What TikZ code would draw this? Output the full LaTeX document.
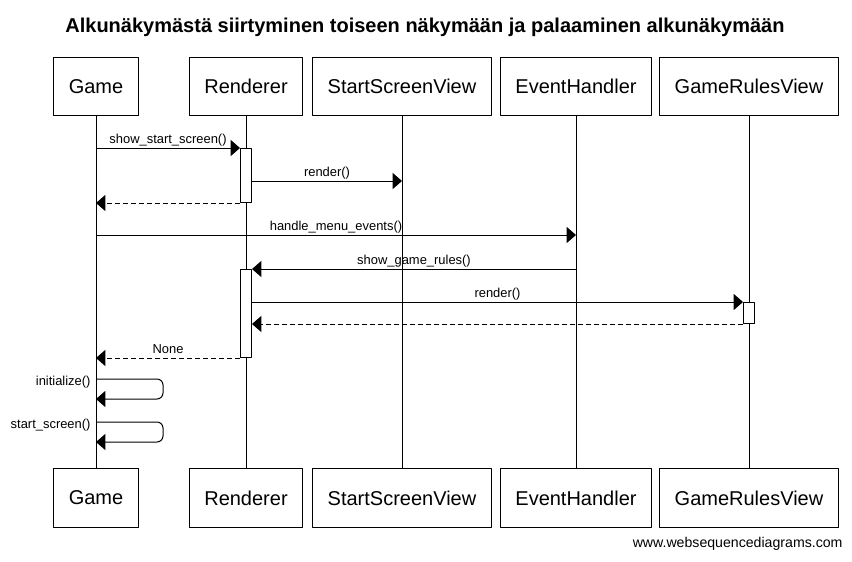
\documentclass[tikz,border=0pt]{standalone}
\usepackage{fontspec}
\setmainfont{Liberation Sans}
\usetikzlibrary{arrows.meta}

\begin{document}
\begin{tikzpicture}[x=0.75pt,y=-0.75pt,line width=0.75pt,line join=round,
	>={Triangle[length=7pt,width=12pt]},
	part/.style={draw,minimum height=43.75pt,inner xsep=11.25pt,font=\fontsize{15}{18}\selectfont},
	actbox/.style={draw,fill=white,anchor=north,minimum width=8.25pt,inner sep=0pt},
	msg/.style={->},
	ret/.style={->,dash pattern=on 3.75pt off 2.25pt},
	lbl/.style={font=\fontsize{9.7}{11}\selectfont,above,inner sep=1pt,text depth=2pt},
	selflbl/.style={font=\fontsize{9.7}{11}\selectfont,anchor=east,inner sep=0pt}]
	\def\xg{96} \def\xr{246} \def\xs{402} \def\xe{576} \def\xv{749} % Lifelines
	\def\ytop{86.5} \def\ybot{498}
	\useasboundingbox (0,0) rectangle (852,561);
	
	\node[anchor=base,inner sep=0pt,font=\bfseries\fontsize{15}{18}\selectfont] (title) at (425,32) {Alkunäkymästä siirtyminen toiseen näkymään ja palaaminen alkunäkymään};
	
	\node[part] (gameT) at (\xg,\ytop) {Game};
	\node[part] (rendT) at (\xr,\ytop) {Renderer};
	\node[part] (startT) at (\xs,\ytop) {StartScreenView};
	\node[part] (eventT) at (\xe,\ytop) {EventHandler};
	\node[part] (rulesT) at (\xv,\ytop) {GameRulesView};
	\node[part] (gameB) at (\xg,\ybot) {Game};
	\node[part] (rendB) at (\xr,\ybot) {Renderer};
	\node[part] (startB) at (\xs,\ybot) {StartScreenView};
	\node[part] (eventB) at (\xe,\ybot) {EventHandler};
	\node[part] (rulesB) at (\xv,\ybot) {GameRulesView};
	\draw (gameT) -- (gameB);
	\draw (rendT) -- (rendB);
	\draw (startT) -- (startB);
	\draw (eventT) -- (eventB);
	\draw (rulesT) -- (rulesB);
	
	% activations
	\node[actbox,minimum height=40.5pt] (act1) at (\xr,148) {};
	\node[actbox,minimum height=66pt] (act2) at (\xr,269) {};
	\node[actbox,minimum height=15.75pt] (act3) at (\xv,302) {};
	\coordinate (r1) at (\xs,181);
	\coordinate (h1) at (\xe,235);
	\coordinate (s1) at (\xg,379);
	\coordinate (s2) at (\xg,422);
	
	\draw[msg] (gameT |- act1.north) -- (act1.north west) node[lbl,midway]{show\_start\_screen()};
	\draw[msg] (act1.east |- r1) -- (r1) node[lbl,midway]{render()};
	\draw[ret] (act1.south west) -- (gameT |- act1.south);
	\draw[msg] (gameT |- h1) -- (h1) node[lbl,midway]{handle\_menu\_events()};
	\draw[msg] (eventT |- act2.north) -- (act2.north east) node[lbl,midway]{show\_game\_rules()};
	\draw[msg] (act2.east |- act3.north) -- (act3.north west) node[lbl,midway]{render()};
	\draw[ret] (act3.south west) -- (act2.east |- act3.south);
	\draw[ret] (act2.south west) -- (gameT |- act2.south) node[lbl,midway]{None};
	\draw[msg,rounded corners=4.5pt] (s1) -- ++(67,0) -- ++(0,20) -- ++(-67,0);
	\draw[msg,rounded corners=4.5pt] (s2) -- ++(67,0) -- ++(0,20) -- ++(-67,0);
	\node[selflbl] (init) at (91,382) {initialize()};
	\node[selflbl] (scr) at (91,425) {start\_screen()};
	
	\node[anchor=base east,inner sep=0pt,font=\fontsize{10.6}{12}\selectfont] (site) at (843,547) {www.websequencediagrams.com};
\end{tikzpicture}
\end{document}
